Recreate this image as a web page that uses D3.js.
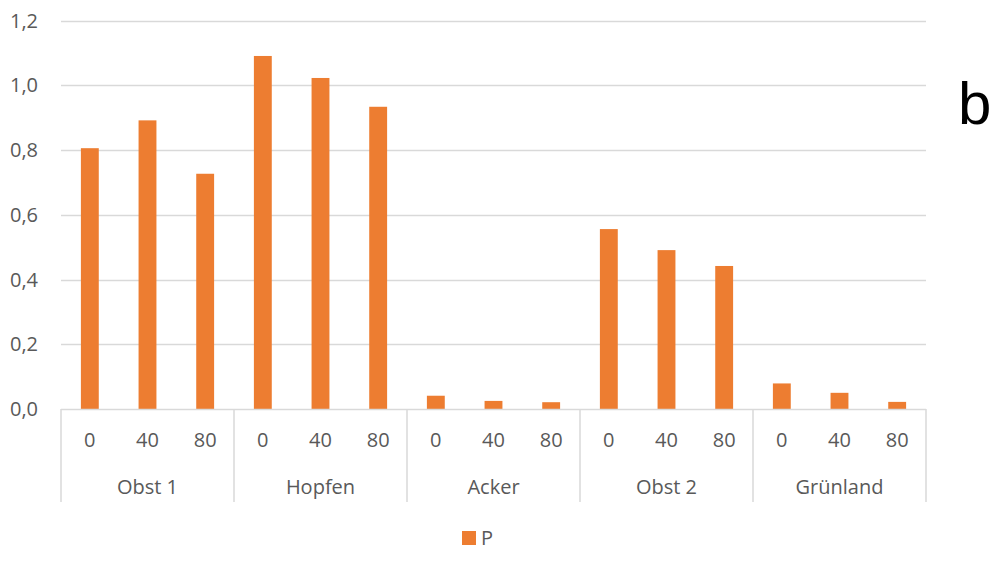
<!DOCTYPE html>
<html><head><meta charset="utf-8">
<script src="https://cdn.jsdelivr.net/npm/d3@7"></script>
<style>body{margin:0;background:#fff}svg{display:block}</style>
</head><body>
<script>
const groups = ["Obst 1","Hopfen","Acker","Obst 2","Grünland"];
const levels = ["0","40","80"];
const values = [
  [0.806,0.892,0.727],
  [1.091,1.023,0.934],
  [0.041,0.025,0.021],
  [0.556,0.491,0.442],
  [0.079,0.050,0.022]
];
const yTicks = [0,0.2,0.4,0.6,0.8,1.0,1.2];
const seriesName = "P";
const panelLabel = "b";

const W=993,H=562;
const svg=d3.select("body").append("svg").attr("width",W).attr("height",H);
const font="'Open Sans', 'Liberation Sans', sans-serif";
const fs=20;
const x0=61,x1=926,yTop=20.7,yBot=409;
const y=d3.scaleLinear().domain([0,1.2]).range([yBot,yTop]);
const gx=d3.scaleBand().domain(groups).range([x0,x1]).padding(0);
const sx=d3.scaleBand().domain(levels).range([0,gx.bandwidth()]).paddingInner(0.69).paddingOuter(0.345);

// gridlines
svg.append("g").selectAll("line").data(yTicks.slice(1)).join("line")
  .attr("x1",x0).attr("x2",x1).attr("y1",d=>Math.round(y(d))+0.5).attr("y2",d=>Math.round(y(d))+0.5)
  .attr("stroke","#d9d9d9").attr("stroke-width",1.3);

// y labels
const fmt=d=>d3.format(".1f")(d).replace(".",",");
svg.append("g").selectAll("text").data(yTicks).join("text")
  .attr("x",38).attr("y",d=>y(d)).attr("dy","0.35em").attr("text-anchor","end")
  .attr("font-family",font).attr("font-size",fs).attr("fill","#595959").text(fmt);

// bars
const data=[];
groups.forEach((g,i)=>levels.forEach((l,j)=>data.push({g,l,v:values[i][j]})));
svg.append("g").selectAll("rect").data(data).join("rect")
  .attr("x",d=>gx(d.g)+sx(d.l)).attr("width",sx.bandwidth())
  .attr("y",d=>y(d.v)).attr("height",d=>yBot-y(d.v)).attr("fill","#ed7d31");

// axis line
svg.append("line").attr("x1",x0).attr("x2",x1).attr("y1",yBot+0.5).attr("y2",yBot+0.5)
  .attr("stroke","#d9d9d9").attr("stroke-width",1.5);
// separators
const seps=groups.map(g=>gx(g)).concat([x1]);
svg.append("g").selectAll("line").data(seps).join("line")
  .attr("x1",d=>d).attr("x2",d=>d).attr("y1",yBot).attr("y2",502)
  .attr("stroke","#d9d9d9").attr("stroke-width",1.5);

// level labels
svg.append("g").selectAll("text").data(data).join("text")
  .attr("x",d=>gx(d.g)+sx(d.l)+sx.bandwidth()/2).attr("y",440).attr("dy","0.35em")
  .attr("text-anchor","middle").attr("font-family",font).attr("font-size",fs).attr("fill","#595959").text(d=>d.l);
// group labels
svg.append("g").selectAll("text").data(groups).join("text")
  .attr("x",d=>gx(d)+gx.bandwidth()/2).attr("y",487).attr("dy","0.35em")
  .attr("text-anchor","middle").attr("font-family",font).attr("font-size",fs).attr("fill","#595959").text(d=>d);

// legend
svg.append("rect").attr("x",462).attr("y",531).attr("width",14).attr("height",14).attr("fill","#ed7d31");
svg.append("text").attr("x",481).attr("y",538).attr("dy","0.35em").attr("font-family",font)
  .attr("font-size",fs).attr("fill","#595959").text(seriesName);

// panel label
svg.append("text").attr("x",958).attr("y",124).attr("font-family","'Liberation Sans', Arial, sans-serif")
  .attr("font-size",60).attr("fill","#000").text(panelLabel);
</script>
</body></html>
